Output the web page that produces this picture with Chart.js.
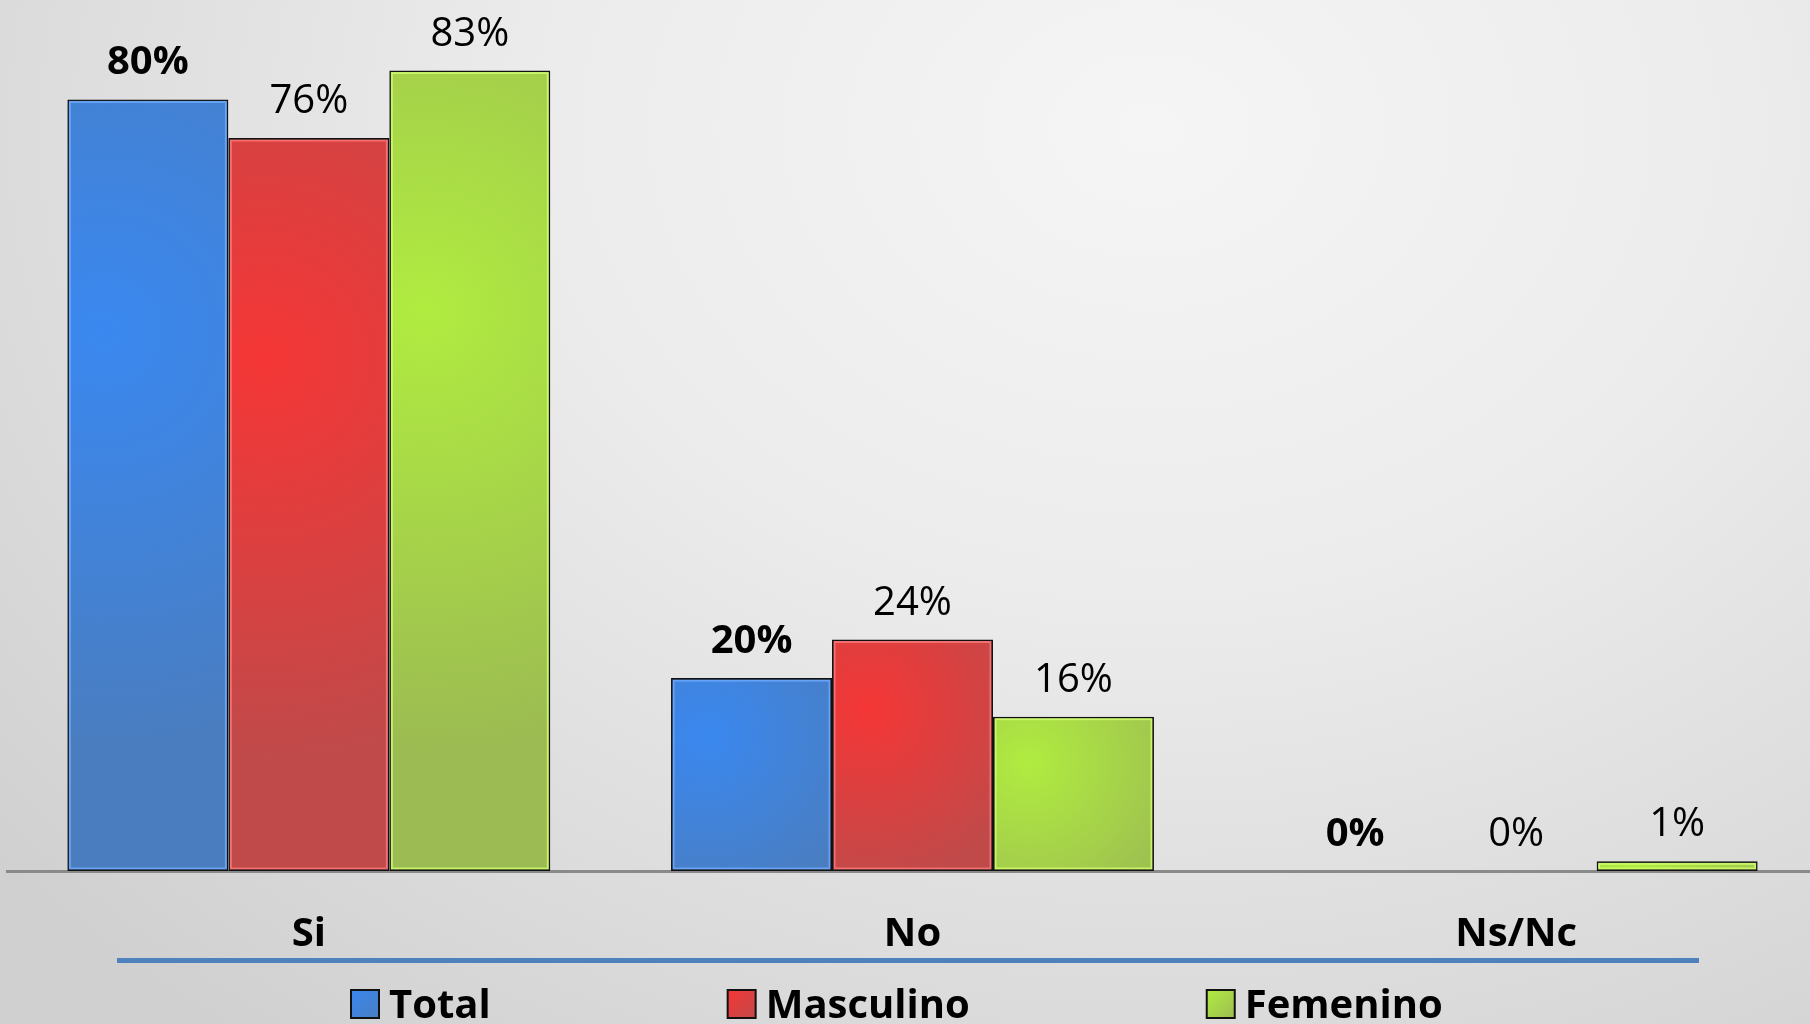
<!DOCTYPE html>
<html><head><meta charset="utf-8">
<script src="https://cdn.jsdelivr.net/npm/chart.js@4"></script>
<style>
html,body{margin:0;padding:0;width:1810px;height:1024px;overflow:hidden;}
body{background: radial-gradient(ellipse 1500px 1150px at 1150px 130px, #f5f5f5 0%, #ececec 40%, #dcdcdc 75%, #d0d0d0 100%);}
#wrap{position:absolute;left:0;top:0;width:1830px;height:1024px;}
</style></head><body>
<div id="wrap"><canvas id="c" width="1830" height="1024"></canvas></div>
<script>
const categories = ['Si', 'No', 'Ns/Nc'];
const seriesNames = ['Total', 'Masculino', 'Femenino'];
const totalValues = [80, 20, 0];
const masculinoValues = [76, 24, 0];
const femeninoValues = [83, 16, 1];

const FONT = '"Open Sans", "Liberation Sans", sans-serif';
const baseColors = ['#4a7dbf', '#c04a4a', '#9cbb52'];
const hiColors = ['#3a88f0', '#f53636', '#b0ec40'];
const edgeColors = ['rgba(110,170,255,0.8)', 'rgba(255,120,120,0.8)', 'rgba(210,255,110,0.8)'];
const allValues = [totalValues, masculinoValues, femeninoValues];

const barLook = {
  id: 'barLook',
  beforeDatasetsDraw(chart) {
    const ctx = chart.ctx;
    chart.data.datasets.forEach((ds, i) => {
      chart.getDatasetMeta(i).data.forEach(el => {
        const left = el.x - el.width / 2;
        const h = el.base - el.y;
        let bg = baseColors[i];
        if (h > 0) {
          const cx = left + el.width * 0.22, cy = el.y + Math.min(h * 0.3, 250);
          const g = ctx.createRadialGradient(cx, cy, 0, cx, cy, Math.max(el.width * 1.1, h * 0.55));
          g.addColorStop(0, hiColors[i]);
          g.addColorStop(1, baseColors[i]);
          bg = g;
        }
        el.options = Object.assign({}, el.options, { backgroundColor: bg });
      });
    });
  },
  afterDatasetsDraw(chart) {
    const ctx = chart.ctx;
    ctx.save();
    chart.data.datasets.forEach((ds, i) => {
      chart.getDatasetMeta(i).data.forEach(el => {
        const h = el.base - el.y;
        if (h <= 6) return;
        const left = el.x - el.width / 2;
        ctx.strokeStyle = edgeColors[i];
        ctx.lineWidth = 2;
        ctx.strokeRect(left + 2.5, el.y + 2.5, el.width - 5, h - 5);
      });
    });
    ctx.fillStyle = '#000';
    ctx.textAlign = 'center';
    ctx.textBaseline = 'alphabetic';
    chart.data.datasets.forEach((ds, i) => {
      chart.getDatasetMeta(i).data.forEach((el, j) => {
        ctx.font = (i === 0 ? 'bold ' : '') + '40px ' + FONT;
        ctx.fillText(allValues[i][j] + '%', el.x, el.y - 25);
      });
    });
    ctx.restore();
  },
  afterDraw(chart) {
    const ctx = chart.ctx;
    ctx.save();
    ctx.fillStyle = '#4f81bd';
    ctx.fillRect(117, 958, 1582, 5);
    ctx.font = 'bold 40px ' + FONT;
    ctx.textBaseline = 'alphabetic';
    ctx.textAlign = 'left';
    let x = 351;
    seriesNames.forEach((name, i) => {
      const g = ctx.createLinearGradient(x, 990, x + 29, 1019);
      g.addColorStop(0, hiColors[i]);
      g.addColorStop(1, baseColors[i]);
      ctx.fillStyle = g;
      ctx.fillRect(x, 990, 28, 28);
      ctx.lineWidth = 2;
      ctx.strokeStyle = '#111';
      ctx.strokeRect(x, 990, 28, 28);
      ctx.fillStyle = '#000';
      ctx.fillText(name, x + 38, 1018);
      x += 38 + ctx.measureText(name).width + 237;
    });
    ctx.restore();
  }
};

new Chart(document.getElementById('c'), {
  type: 'bar',
  data: {
    labels: categories,
    datasets: seriesNames.map((n, i) => ({
      label: n,
      data: allValues[i],
      backgroundColor: baseColors[i],
      borderColor: '#111',
      borderWidth: 2,
      borderSkipped: false,
      categoryPercentage: 0.8,
      barPercentage: 1.0
    }))
  },
  options: {
    responsive: false,
    animation: false,
    layout: { padding: { left: 7, right: 12, top: 3, bottom: 25 } },
    plugins: { legend: { display: false }, tooltip: { enabled: false } },
    scales: {
      x: {
        grid: { display: false, drawTicks: false },
        border: { display: true, color: '#8a8a8a', width: 3 },
        ticks: { color: '#000', padding: 40, font: { family: FONT, size: 40, weight: 'bold' } }
      },
      y: { display: false, min: 0, max: 90 }
    }
  },
  plugins: [barLook]
});
</script>
</body></html>
